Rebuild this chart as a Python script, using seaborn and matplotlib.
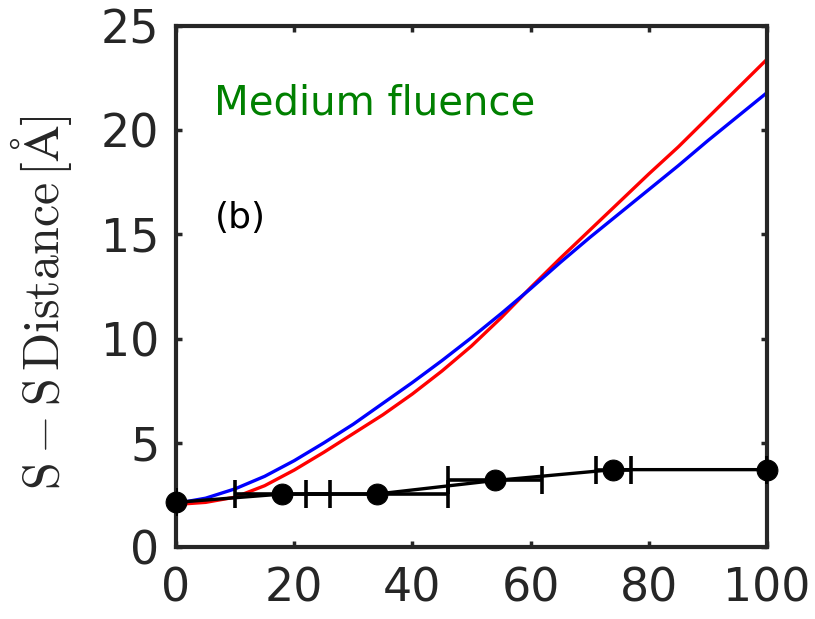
import numpy as np
import pandas as pd
import matplotlib
matplotlib.use("Agg")
import matplotlib.pyplot as plt
import seaborn as sns

# Simulated S-S distance curves (sampled every 5 units of time)
t_model = [0, 5, 10, 15, 20, 25, 30, 35, 40, 45, 50,
           55, 60, 65, 70, 75, 80, 85, 90, 95, 100]
dist_red = [2.05, 2.15, 2.4, 2.95, 3.7, 4.55, 5.45, 6.35, 7.35, 8.45, 9.65,
            11.0, 12.45, 13.85, 15.2, 16.55, 17.9, 19.2, 20.6, 22.0, 23.4]
dist_blue = [2.1, 2.35, 2.8, 3.4, 4.15, 5.0, 5.9, 6.9, 7.9, 8.95, 10.05,
             11.2, 12.4, 13.65, 14.85, 16.0, 17.15, 18.3, 19.5, 20.65, 21.8]

# Measured S-S distance with time-window error bars
t_meas = [0, 18, 34, 54, 74, 100]
dist_meas = [2.15, 2.55, 2.55, 3.2, 3.72, 3.72]
t_err = [0, 8, 12, 8, 3, 0]

x_ticks = [0, 20, 40, 60, 80, 100]
y_ticks = [0, 5, 10, 15, 20, 25]

sns.set_theme(style="white")
plt.rcParams["font.family"] = ["DejaVu Sans"]
plt.rcParams["mathtext.fontset"] = "cm"

ink = "#262626"
fig = plt.figure(figsize=(8.15, 6.19), dpi=100)
ax = fig.add_axes([0.216, 0.116, 0.725, 0.842])

model = pd.DataFrame({"t": t_model, "red": dist_red, "blue": dist_blue})
sns.lineplot(data=model, x="t", y="red", color="#ff0000", linewidth=2.4, ax=ax)
sns.lineplot(data=model, x="t", y="blue", color="#0000ff", linewidth=2.4, ax=ax)

meas = pd.DataFrame({"t": t_meas, "d": dist_meas})
sns.lineplot(data=meas, x="t", y="d", color="black", linewidth=2.4,
             marker="o", markersize=15, markeredgecolor="black", ax=ax,
             clip_on=False, zorder=5)
ax.errorbar(t_meas, dist_meas, xerr=t_err, fmt="none", ecolor="black",
            elinewidth=2.6, capsize=10, capthick=2.6, zorder=4)

ax.set_xlim(0, 100)
ax.set_ylim(0, 25)
ax.set_xticks(x_ticks)
ax.set_yticks(y_ticks)
ax.tick_params(axis="both", which="both", direction="in", length=4, width=2.5,
               color=ink, labelcolor=ink, labelsize=33,
               top=True, right=True, bottom=True, left=True)
ax.tick_params(axis="x", pad=14)
ax.tick_params(axis="y", pad=12)
for sp in ax.spines.values():
    sp.set_visible(True)
    sp.set_color(ink)
    sp.set_linewidth(3)

ax.set_xlabel("")
ax.set_ylabel(r"$\mathrm{S-S\,Distance\,[\AA]}$", fontsize=36, color=ink)
ax.yaxis.set_label_coords(-0.172, 0.47)

ax.text(6.5, 20.75, "Medium fluence", color="#008000", fontsize=29,
        va="baseline", ha="left")
ax.text(6.5, 15.3, "(b)", color="black", fontsize=26,
        va="baseline", ha="left")

fig.savefig("out.png", dpi=100)
